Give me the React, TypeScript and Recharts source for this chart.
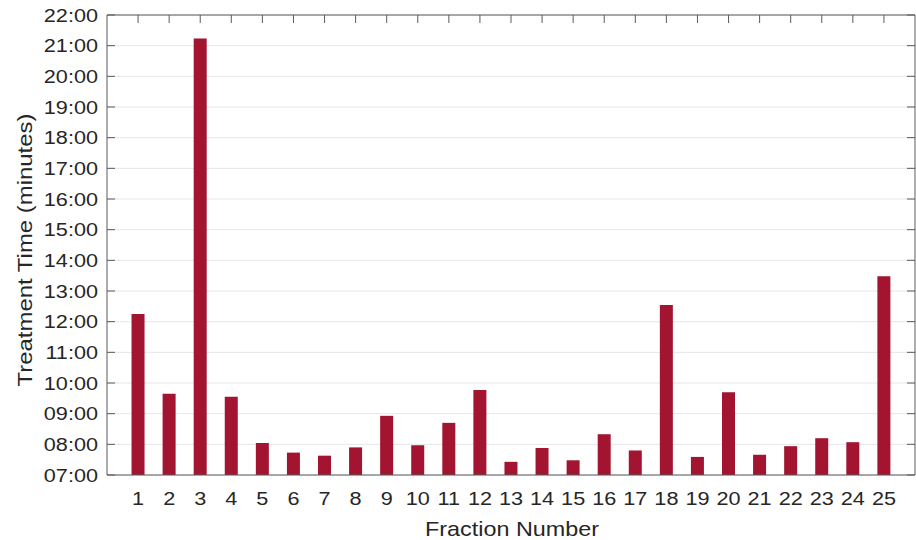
import { BarChart, Bar, XAxis, YAxis, CartesianGrid, ReferenceLine } from 'recharts';

const fractions = [
  1, 2, 3, 4, 5, 6, 7, 8, 9, 10, 11, 12, 13, 14, 15, 16, 17, 18, 19, 20, 21, 22, 23, 24, 25,
];
// treatment time in minutes (decimal)
const minutes = [
  12.25, 9.65, 21.23, 9.55, 8.04, 7.73, 7.63, 7.9, 8.93, 7.97, 8.7, 9.77, 7.43, 7.88, 7.48,
  8.33, 7.8, 12.54, 7.59, 9.7, 7.66, 7.94, 8.2, 8.07, 13.48,
];
const yTicks = [7, 8, 9, 10, 11, 12, 13, 14, 15, 16, 17, 18, 19, 20, 21, 22];

const data = fractions.map((f, i) => ({ fraction: f, minutes: minutes[i] }));

const W = 916;
const H = 540;
const PLOT_LEFT = 107;
const PLOT_RIGHT = 915;
const PLOT_TOP = 15;
const PLOT_BOTTOM = 475;
const TICK_LEN = 8;

const AXIS = '#5a5a5a';
const TEXT = '#262626';
const FONT = '"Liberation Sans", Arial, Helvetica, sans-serif';
const SX = 1.14;

const fmt = (v: number) => `${String(v).padStart(2, '0')}:00`;

function StretchText({
  x,
  y,
  angle = 0,
  size,
  anchor,
  baseline = 'central',
  children,
}: {
  x: number;
  y: number;
  angle?: number;
  size: number;
  anchor: 'start' | 'middle' | 'end';
  baseline?: string;
  children: string;
}) {
  return (
    <text
      transform={`translate(${x},${y}) rotate(${angle}) scale(${SX},1)`}
      textAnchor={anchor}
      dominantBaseline={baseline}
      fontSize={size}
      fontFamily={FONT}
      fill={TEXT}
    >
      {children}
    </text>
  );
}

// left labels + inward ticks on both left and right edges
const YTick = (props: any) => {
  const { y, payload } = props;
  return (
    <g>
      <line x1={PLOT_LEFT} x2={PLOT_LEFT + TICK_LEN} y1={y} y2={y} stroke={AXIS} />
      <line x1={PLOT_RIGHT - TICK_LEN} x2={PLOT_RIGHT} y1={y} y2={y} stroke={AXIS} />
      <StretchText x={98} y={y} size={19} anchor="end">
        {fmt(payload.value)}
      </StretchText>
    </g>
  );
};

// bottom labels + inward ticks on the top edge
const XTick = (props: any) => {
  const { x, payload } = props;
  return (
    <g>
      <line x1={x} x2={x} y1={PLOT_TOP} y2={PLOT_TOP + TICK_LEN} stroke={AXIS} />
      <StretchText x={x} y={498.5} size={19} anchor="middle">
        {String(payload.value)}
      </StretchText>
    </g>
  );
};

export default function App() {
  return (
    <div style={{ position: 'absolute', left: 0, top: 0, background: '#fff' }}>
      <BarChart
        width={W}
        height={H}
        data={data}
        margin={{ top: PLOT_TOP, right: W - PLOT_RIGHT, bottom: 0, left: 0 }}
      >
        <CartesianGrid vertical={false} stroke="#e6e6e6" strokeWidth={1} />
        <XAxis
          dataKey="fraction"
          type="number"
          domain={[0, 26]}
          ticks={fractions}
          interval={0}
          height={H - PLOT_BOTTOM}
          tickLine={false}
          axisLine={{ stroke: AXIS }}
          tick={<XTick />}
          label={{
            content: () => (
              <StretchText x={512} y={535.5} size={20.5} anchor="middle" baseline="alphabetic">
                Fraction Number
              </StretchText>
            ),
          }}
        />
        <YAxis
          type="number"
          domain={[7, 22]}
          ticks={yTicks}
          interval={0}
          width={PLOT_LEFT}
          tickLine={false}
          axisLine={{ stroke: AXIS }}
          tick={<YTick />}
          label={{
            content: () => (
              <StretchText x={32} y={250} angle={-90} size={21} anchor="middle" baseline="alphabetic">
                Treatment Time (minutes)
              </StretchText>
            ),
          }}
        />
        <ReferenceLine y={22} stroke={AXIS} />
        <ReferenceLine x={26} stroke={AXIS} />
        <Bar dataKey="minutes" fill="#A2142F" barSize={13} isAnimationActive={false} />
      </BarChart>
    </div>
  );
}
